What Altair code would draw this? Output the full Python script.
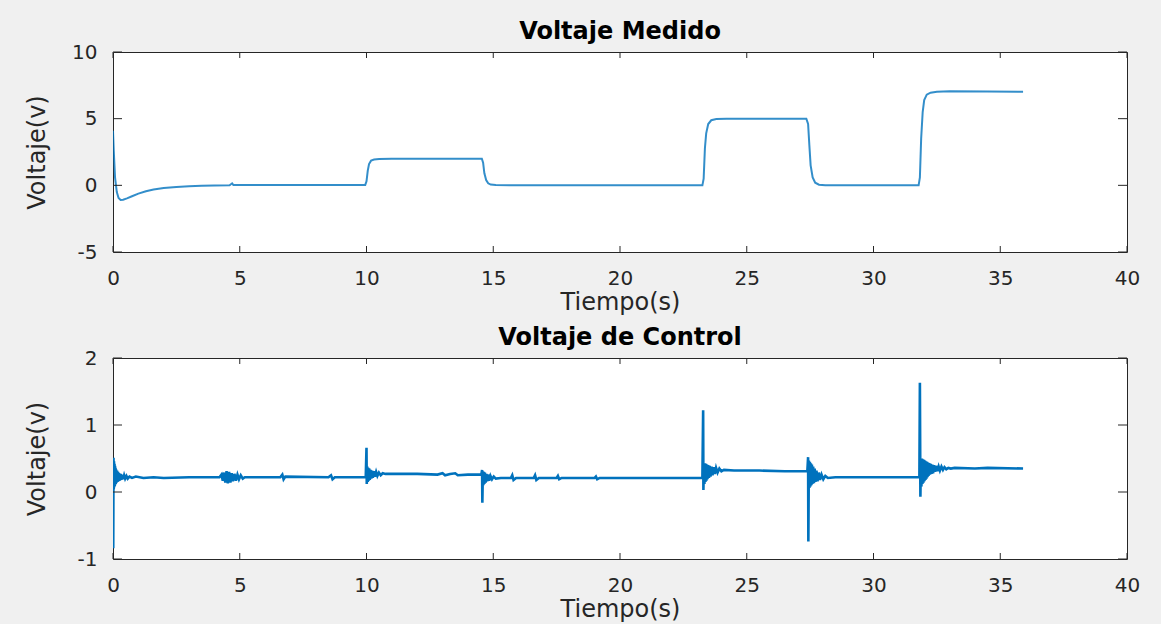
import altair as alt
import pandas as pd

# --- Voltaje Medido (measured output) ---
med_t = [0.00, 0.03, 0.08, 0.15, 0.22, 0.30, 0.40, 0.55, 0.75, 1.0, 1.3, 1.6, 2.0, 2.5,
         3.0, 3.5, 4.0, 4.6, 4.7, 4.75, 5.5, 7.0, 8.5, 9.95, 10.0, 10.05, 10.1, 10.18,
         10.3, 10.5, 11.0, 12.5, 14.0, 14.55, 14.6, 14.65, 14.72, 14.8, 14.9, 15.1, 16.0,
         18.0, 20.0, 22.0, 23.25, 23.3, 23.35, 23.4, 23.48, 23.6, 23.8, 24.2, 25.5, 27.35,
         27.42, 27.47, 27.52, 27.6, 27.7, 27.85, 28.1, 29.0, 30.5, 31.78, 31.83, 31.88,
         31.94, 32.0, 32.1, 32.25, 32.5, 33.0, 34.5, 35.9]
med_v = [4.1, 2.6, 0.6, -0.5, -0.95, -1.1, -1.08, -0.98, -0.82, -0.62, -0.45, -0.32, -0.2, -0.12,
         -0.07, -0.03, -0.01, 0.0, 0.15, 0.02, 0.02, 0.02, 0.02, 0.03, 0.3, 1.1, 1.6, 1.85,
         1.94, 1.98, 2.0, 2.0, 2.0, 2.0, 1.7, 0.9, 0.4, 0.15, 0.06, 0.02, 0.01,
         0.0, 0.0, 0.0, 0.0, 0.5, 2.8, 3.9, 4.6, 4.88, 4.97, 5.0, 5.0, 5.0,
         4.6, 3.0, 1.5, 0.6, 0.2, 0.05, 0.0, 0.0, 0.0, 0.0, 0.6, 3.5,
         5.5, 6.4, 6.8, 6.95, 7.02, 7.05, 7.03, 7.02]

# --- Voltaje de Control (controller output) ---
ctl_t = [
    # start-up transient
    0.00, 0.01, 0.02, 0.03, 0.04, 0.05, 0.06, 0.07, 0.08, 0.09, 0.10, 0.11, 0.12, 0.14,
    0.16, 0.18, 0.20, 0.22, 0.24, 0.27, 0.30, 0.33, 0.36, 0.40, 0.44, 0.48, 0.53, 0.58,
    0.65, 0.75, 0.90, 1.2, 1.6, 2.0, 3.0, 4.2,
    # disturbance near 4.5 s
    4.28, 4.33, 4.38, 4.43, 4.48, 4.53, 4.58, 4.63, 4.68, 4.73, 4.79, 4.85, 4.91, 4.97,
    5.04, 5.12, 5.2,
    6.0, 6.6, 6.68, 6.73, 6.8, 8.5, 8.6, 8.66, 8.75, 9.97,
    # step to 2 V
    10.00, 10.01, 10.03, 10.05, 10.07, 10.09, 10.11, 10.13, 10.16, 10.19, 10.22, 10.25,
    10.29, 10.33, 10.38, 10.43, 10.49, 10.56, 10.64, 10.75,
    11.0, 12.0, 12.8, 13.0, 13.1, 13.3, 13.5, 13.6, 14.0, 14.53,
    # step back to 0 V
    14.56, 14.57, 14.59, 14.61, 14.63, 14.65, 14.67, 14.70, 14.73, 14.76, 14.80, 14.84,
    14.89, 14.95, 15.02, 15.1, 15.3,
    15.7, 15.75, 15.8, 15.9, 16.6, 16.65, 16.7, 16.8, 17.5, 17.55, 17.6, 17.7,
    19.0, 19.05, 19.1, 19.2, 23.25,
    # step to 5 V
    23.28, 23.29, 23.31, 23.33, 23.35, 23.37, 23.39, 23.41, 23.43, 23.45, 23.48, 23.51,
    23.54, 23.57, 23.61, 23.65, 23.69, 23.74, 23.79, 23.85, 23.92, 24.0, 24.1,
    24.5, 25.5, 26.5, 27.39,
    # step back to 0 V
    27.42, 27.43, 27.45, 27.47, 27.49, 27.51, 27.53, 27.55, 27.57, 27.59, 27.62, 27.65,
    27.68, 27.71, 27.75, 27.79, 27.84, 27.89, 27.95, 28.02, 28.1, 28.2,
    28.5, 29.5, 30.5, 31.81,
    # step to 7 V
    31.83, 31.85, 31.87, 31.89, 31.91, 31.93, 31.95, 31.97, 31.99, 32.01, 32.03, 32.05,
    32.07, 32.09, 32.11, 32.13, 32.15, 32.17, 32.20, 32.23, 32.26, 32.29, 32.32, 32.35,
    32.39, 32.43, 32.47, 32.52, 32.57, 32.62, 32.68, 32.74, 32.80, 32.87, 32.95, 33.05,
    33.2, 34.0, 34.5, 35.9,
]
ctl_v = [
    0.00, -0.84, 0.51, 0.04, 0.46, 0.07, 0.42, 0.09, 0.39, 0.11, 0.36, 0.12, 0.34, 0.14,
    0.32, 0.15, 0.30, 0.16, 0.28, 0.17, 0.27, 0.18, 0.26, 0.19, 0.25, 0.20, 0.24, 0.20,
    0.23, 0.21, 0.23, 0.21, 0.22, 0.21, 0.22, 0.22,
    0.26, 0.17, 0.29, 0.14, 0.31, 0.13, 0.30, 0.14, 0.28, 0.16, 0.27, 0.17, 0.26, 0.19,
    0.25, 0.20, 0.22,
    0.22, 0.22, 0.26, 0.19, 0.23, 0.22, 0.25, 0.19, 0.22, 0.22,
    0.66, 0.12, 0.38, 0.15, 0.36, 0.17, 0.35, 0.18, 0.33, 0.20, 0.32, 0.21,
    0.31, 0.23, 0.30, 0.24, 0.29, 0.25, 0.28, 0.27,
    0.27, 0.27, 0.26, 0.28, 0.25, 0.27, 0.28, 0.25, 0.26, 0.26,
    0.33, -0.16, 0.31, 0.10, 0.30, 0.12, 0.29, 0.14, 0.27, 0.16, 0.26, 0.17,
    0.24, 0.19, 0.23, 0.20, 0.21,
    0.21, 0.25, 0.18, 0.21, 0.21, 0.25, 0.18, 0.21, 0.21, 0.24, 0.19, 0.21,
    0.21, 0.23, 0.19, 0.21, 0.21,
    1.22, 0.03, 0.43, 0.12, 0.43, 0.15, 0.42, 0.17, 0.41, 0.19, 0.40, 0.21,
    0.39, 0.23, 0.38, 0.25, 0.37, 0.27, 0.36, 0.29, 0.35, 0.31, 0.33,
    0.32, 0.32, 0.31, 0.31,
    0.52, -0.74, 0.47, 0.06, 0.45, 0.08, 0.43, 0.10, 0.41, 0.12, 0.38, 0.13,
    0.35, 0.15, 0.32, 0.16, 0.29, 0.18, 0.26, 0.19, 0.24, 0.21,
    0.22, 0.22, 0.22, 0.22,
    1.63, -0.07, 0.50, 0.08, 0.50, 0.12, 0.49, 0.14, 0.48, 0.16, 0.47, 0.18,
    0.46, 0.20, 0.45, 0.22, 0.44, 0.24, 0.43, 0.26, 0.42, 0.27, 0.41, 0.28,
    0.40, 0.30, 0.39, 0.31, 0.38, 0.32, 0.38, 0.33, 0.37, 0.34, 0.36, 0.35,
    0.36, 0.35, 0.36, 0.35,
]

x_ticks = [0, 5, 10, 15, 20, 25, 30, 35, 40]
y1_ticks = [-5, 0, 5, 10]
y2_ticks = [-1, 0, 1, 2]

W = 1014
FONT = "DejaVu Sans"
BLUE = "#0072BD"
INK = "#262626"
PLAIN_NUMBER = "'' + datum.value"


def panel(t, v, ydom, yticks, title, h, width_px, opacity):
    df = pd.DataFrame({"t": t, "v": v})
    xscale = alt.Scale(domain=[0, 40], nice=False, zero=False)
    yscale = alt.Scale(domain=ydom, nice=False, zero=False)
    line = alt.Chart(df).mark_line(
        color=BLUE, strokeWidth=width_px, opacity=opacity, clip=True
    ).encode(
        x=alt.X("t:Q", scale=xscale,
                axis=alt.Axis(values=x_ticks, labelExpr=PLAIN_NUMBER, title="Tiempo(s)",
                              titleY=50, titleBaseline="middle")),
        y=alt.Y("v:Q", scale=yscale,
                axis=alt.Axis(values=yticks, labelExpr=PLAIN_NUMBER, title="Voltaje(v)",
                              titleX=-76, titleY=h / 2, titleAngle=270,
                              titleAlign="center", titleBaseline="middle")),
    )
    xt = pd.DataFrame({"t": x_ticks})
    yt = pd.DataFrame({"v": yticks})
    # inward-pointing ticks on all four sides of the box
    tick_x_bottom = alt.Chart(xt).mark_rule(color=INK).encode(
        x=alt.X("t:Q", scale=xscale), y=alt.value(h), y2=alt.value(h - 6))
    tick_x_top = alt.Chart(xt).mark_rule(color=INK).encode(
        x=alt.X("t:Q", scale=xscale), y=alt.value(0), y2=alt.value(6))
    tick_y_left = alt.Chart(yt).mark_rule(color=INK).encode(
        y=alt.Y("v:Q", scale=yscale), x=alt.value(0), x2=alt.value(9))
    tick_y_right = alt.Chart(yt).mark_rule(color=INK).encode(
        y=alt.Y("v:Q", scale=yscale), x=alt.value(W), x2=alt.value(W - 9))
    return alt.layer(line, tick_x_bottom, tick_x_top, tick_y_left, tick_y_right).properties(
        width=W, height=h,
        title=alt.TitleParams(title, fontSize=24, font=FONT, fontWeight="bold",
                              color="#000000", offset=-2, anchor="middle"),
    )


top = panel(med_t, med_v, [-5, 10], y1_ticks, "Voltaje Medido", 200, 2.0, 0.8)
bottom = panel(ctl_t, ctl_v, [-1, 2], y2_ticks, "Voltaje de Control", 201, 2.6, 1.0)

chart = alt.vconcat(top, bottom, spacing=10).properties(
    background="#f0f0f0",
    padding={"left": 24, "top": 19, "right": 20, "bottom": 2},
).configure_view(
    stroke=INK, strokeWidth=1, fill="#ffffff"
).configure_axis(
    domain=False, ticks=False, tickSize=0, grid=False,
    labelFont=FONT, labelFontSize=20, labelColor=INK, labelPadding=16,
    labelFlush=False, labelOverlap=False,
    titleFont=FONT, titleFontSize=24, titleFontWeight="normal", titleColor=INK,
)

chart.save("out.html", embed_options={"renderer": "svg", "actions": False})
